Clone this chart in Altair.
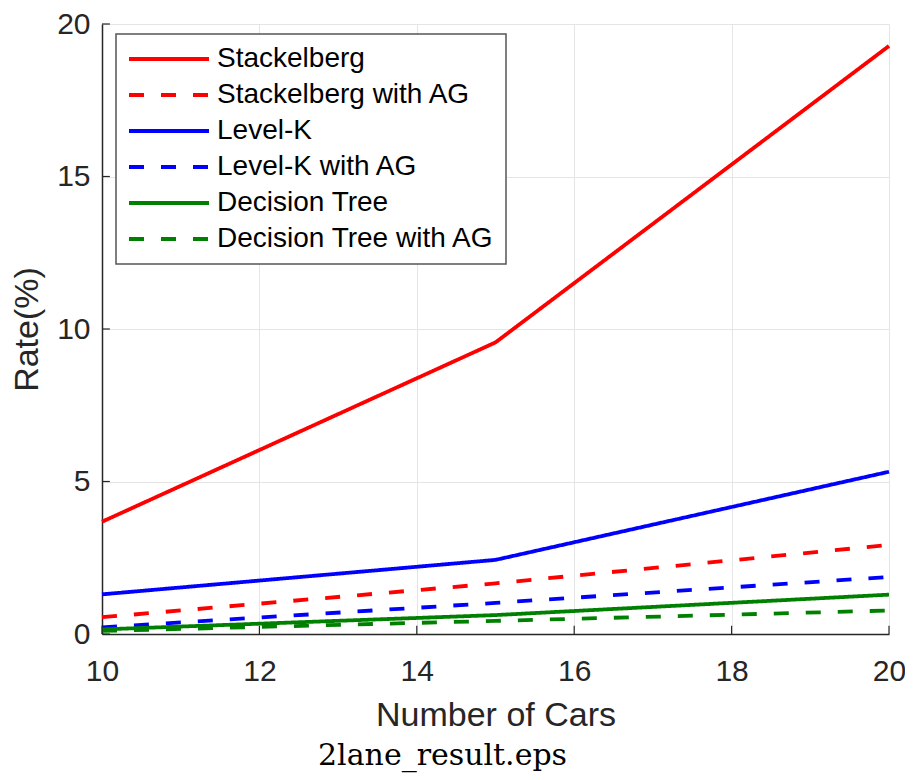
import altair as alt
import pandas as pd

cars = [10, 15, 20]
series_names = ["Stackelberg", "Stackelberg with AG", "Level-K", "Level-K with AG",
                "Decision Tree", "Decision Tree with AG"]
stackelberg = [3.68, 9.56, 19.28]
stackelberg_ag = [0.55, 1.66, 2.92]
level_k = [1.30, 2.43, 5.32]
level_k_ag = [0.22, 1.02, 1.87]
decision_tree = [0.15, 0.62, 1.29]
decision_tree_ag = [0.10, 0.43, 0.77]

series_colors = ["#ff0000", "#ff0000", "#0000ff", "#0000ff", "#008000", "#008000"]
series_dashes = [[1, 0], [15, 17], [1, 0], [15, 17], [1, 0], [15, 17]]

x_ticks = [10, 12, 14, 16, 18, 20]
y_ticks = [0, 5, 10, 15, 20]

rows = []
for name, vals in zip(series_names, [stackelberg, stackelberg_ag, level_k, level_k_ag,
                                      decision_tree, decision_tree_ag]):
    for x, v in zip(cars, vals):
        rows.append({"cars": x, "rate": v, "series": name})
df = pd.DataFrame(rows)

AX = "#262626"
FONT = "Liberation Sans"

x_scale = alt.Scale(domain=[10, 20], nice=False, zero=False)
y_scale = alt.Scale(domain=[0, 20], nice=False)

x_axis = alt.Axis(values=x_ticks, format="d", title="Number of Cars", labelFontSize=30,
                  titleFontSize=34, labelPadding=22, titlePadding=12, ticks=False,
                  labelFlush=False, labelOverlap=False)
y_axis = alt.Axis(values=y_ticks, format="d", title="Rate(%)", labelFontSize=30,
                  titleFontSize=34, labelPadding=12, titlePadding=12, ticks=False,
                  labelFlush=False, labelOverlap=False)


def make_legend():
    return alt.Legend(title=None, orient="none", legendX=14, legendY=10,
                      symbolType="stroke", symbolSize=6400, symbolStrokeWidth=3.8,
                      clipHeight=28, rowPadding=8, padding=11, labelOffset=6,
                      labelFontSize=28, labelFont=FONT, labelColor="black",
                      strokeColor="#555555", fillColor="white", labelLimit=400)


lines = alt.Chart(df).mark_line(strokeWidth=3.8, strokeCap="butt").encode(
    x=alt.X("cars:Q", scale=x_scale, axis=x_axis),
    y=alt.Y("rate:Q", scale=y_scale, axis=y_axis),
    color=alt.Color("series:N", scale=alt.Scale(domain=series_names, range=series_colors),
                    legend=make_legend()),
    strokeDash=alt.StrokeDash("series:N",
                              scale=alt.Scale(domain=series_names, range=series_dashes),
                              legend=make_legend()),
    order=alt.Order("cars:Q"),
)

xt = pd.DataFrame({"t": x_ticks})
yt = pd.DataFrame({"t": y_ticks})
x_tick_marks = alt.Chart(xt).mark_rule(color=AX, strokeWidth=1.2).encode(
    x=alt.X("t:Q", scale=x_scale), y=alt.datum(0, scale=y_scale), y2=alt.datum(0.27))
y_tick_marks = alt.Chart(yt).mark_rule(color=AX, strokeWidth=1.2).encode(
    y=alt.Y("t:Q", scale=y_scale), x=alt.datum(10, scale=x_scale), x2=alt.datum(10.1))

chart = alt.layer(lines, x_tick_marks, y_tick_marks).properties(
    width=787, height=610,
    autosize=alt.AutoSizeParams(type="none"),
    padding={"left": 94, "top": 16, "right": 16, "bottom": 142},
    title=alt.TitleParams("2lane_result.eps", orient="bottom", font="DejaVu Serif",
                          fontSize=30, fontWeight="normal", color="black",
                          anchor="middle", offset=9, dx=-53),
).configure_view(stroke=None).configure_axis(
    labelFont=FONT, titleFont=FONT, labelColor=AX, titleColor=AX,
    titleFontWeight="normal", domainColor=AX, domainWidth=1.5,
    gridColor="#e5e5e5", gridWidth=1,
).configure_legend(strokeWidth=1.5)

chart.save("out.html", embed_options={"renderer": "svg", "actions": False})
